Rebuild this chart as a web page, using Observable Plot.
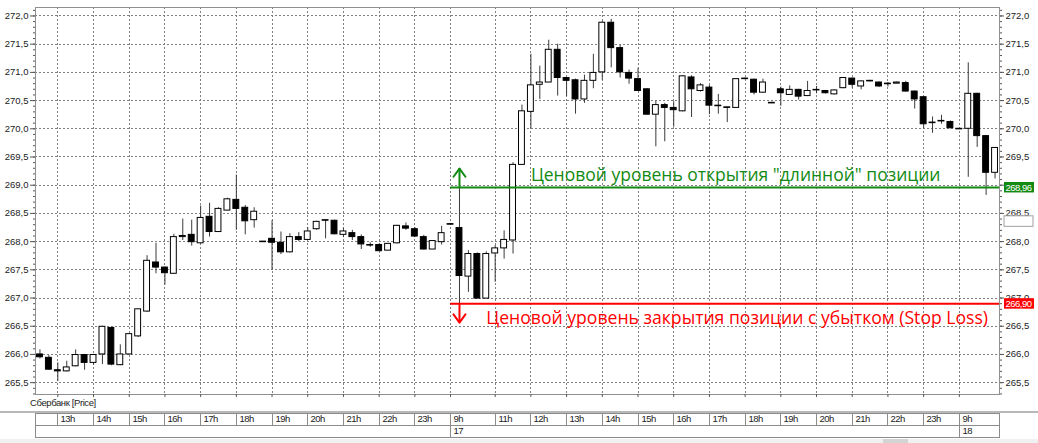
<!DOCTYPE html>
<html><head><meta charset="utf-8">
<script src="https://cdn.jsdelivr.net/npm/d3@7"></script>
<script src="https://cdn.jsdelivr.net/npm/@observablehq/plot@0.6"></script>
<style>
body{margin:0;background:#fff;}
#chart{position:relative;width:1038px;height:443px;overflow:hidden;background:#fff;}
.crisp{shape-rendering:crispEdges;}
</style></head><body><div id="chart"></div>
<script>
// ---- data (15-minute candles, index = bar number) ----
const openPrice  = [266.00,265.94,265.72,265.70,265.79,265.99,265.85,266.00,266.47,265.81,266.00,266.32,266.76,267.63,267.54,267.43,268.08,268.12,267.97,268.44,268.17,268.55,268.74,268.60,268.38,268.00,268.05,267.98,267.81,268.08,268.03,268.22,268.38,268.37,268.12,268.15,268.08,267.94,267.94,267.84,267.97,268.27,268.22,268.08,267.86,267.99,268.31,268.24,267.38,267.78,266.99,267.79,267.88,268.02,269.36,270.30,270.78,270.82,271.40,270.90,270.86,270.52,270.85,271.00,271.88,271.43,270.99,270.88,270.70,270.25,270.42,270.37,270.31,270.91,270.67,270.73,270.41,270.38,270.37,270.88,270.87,270.64,270.46,270.70,270.60,270.69,270.58,270.68,270.67,270.61,270.72,270.89,270.75,270.84,270.82,270.79,270.80,270.81,270.66,270.56,270.10,270.13,270.12,270.00,270.00,270.62,269.87,269.22];
const highPrice  = [266.08,265.98,265.85,265.88,266.08,266.00,266.00,266.50,266.48,266.17,266.37,266.80,267.75,267.97,267.55,268.13,268.40,268.38,268.63,268.68,268.60,268.77,269.18,268.64,268.60,268.00,268.37,268.17,268.14,268.16,268.25,268.36,268.38,268.38,268.24,268.20,268.12,267.98,267.96,267.96,268.29,268.33,268.25,268.11,268.02,268.27,268.31,268.96,267.84,267.80,267.82,267.93,268.19,269.40,270.42,271.32,271.11,271.57,271.50,270.90,270.88,270.95,271.32,271.90,271.94,271.48,271.04,271.07,270.71,270.49,270.45,270.48,270.94,270.94,270.80,270.77,270.61,270.38,270.89,270.90,270.88,270.88,270.47,270.74,270.76,270.70,270.84,270.75,270.68,270.69,270.91,270.90,270.85,270.86,270.83,270.82,270.83,270.84,270.67,270.57,270.21,270.24,270.14,270.00,271.17,270.63,269.88,269.67];
const lowPrice   = [265.92,265.72,265.52,265.69,265.78,265.72,265.81,265.82,265.80,265.80,265.99,266.30,266.75,267.43,267.23,267.42,268.02,267.92,267.96,268.08,268.16,268.55,268.20,268.12,268.24,268.00,267.50,267.77,267.80,268.00,268.02,268.20,268.05,268.12,268.07,268.02,267.86,267.90,267.83,267.84,267.96,268.20,268.07,267.85,267.86,267.94,268.30,266.90,267.10,266.99,266.99,267.28,267.69,267.78,269.35,270.00,270.52,270.82,270.58,270.57,270.26,270.45,270.71,270.86,271.08,270.90,270.79,270.66,270.24,269.68,269.77,270.03,270.30,270.20,270.65,270.25,270.26,270.11,270.37,270.87,270.60,270.63,270.45,270.40,270.59,270.51,270.57,270.62,270.62,270.60,270.71,270.72,270.69,270.83,270.73,270.74,270.80,270.65,270.35,270.00,269.92,270.08,270.00,269.99,269.14,269.67,268.82,269.11];
const closePrice = [265.95,265.73,265.70,265.77,265.99,265.85,265.99,266.49,265.82,266.00,266.36,266.80,267.66,267.54,267.44,268.08,268.10,267.99,268.42,268.17,268.58,268.75,268.58,268.36,268.53,267.99,267.98,267.81,268.08,268.03,268.18,268.35,268.37,268.13,268.18,268.08,267.95,267.93,267.83,267.96,268.28,268.23,268.09,267.86,268.01,268.15,268.30,267.39,267.78,266.99,267.78,267.88,268.03,269.36,270.31,270.77,270.82,271.40,270.90,270.85,270.52,270.85,270.99,271.88,271.43,271.00,270.89,270.67,270.25,270.42,270.37,270.33,270.93,270.70,270.77,270.41,270.40,270.37,270.88,270.89,270.64,270.82,270.45,270.63,270.69,270.57,270.67,270.69,270.63,270.68,270.90,270.78,270.84,270.85,270.75,270.80,270.82,270.66,270.52,270.08,270.11,270.14,270.01,269.99,270.62,269.87,269.22,269.66];

const hourIdx    = [2,6,10,14,18,22,26,30,34,38,42,46,51,55,59,63,67,71,75,79,83,87,91,95,99,103];
const hourLabels = ["13h","14h","15h","16h","17h","18h","19h","20h","21h","22h","23h","9h","11h","12h","13h","14h","15h","16h","17h","18h","19h","20h","21h","22h","23h","9h"];
const dayIdx     = [46,103];
const dayLabels  = ["17","18"];

const yTicks = d3.range(2655, 2721, 5).map(v => v / 10);
const yMinor = d3.range(2653, 2722, 1).map(v => v / 10);

const longLevel = 268.96;
const stopLevel = 266.90;
const blankTag  = 268.36;
const entryIdx  = 46;
const signalIdx = 47;
const instrument = "Сбербанк [Price]";
const longText = 'Ценовой уровень открытия "длинной" позиции';
const stopText = "Ценовой уровень закрытия позиции с убытком (Stop Loss)";

// ---- build ----
const GREEN = "#138a13", RED = "#ff0000";
const candles = openPrice.map((o, i) => ({i, o, h: highPrice[i], l: lowPrice[i], c: closePrice[i], up: closePrice[i] >= o}));
const lastIdx = candles.length - 0.5;
const fmt1 = d => d.toFixed(1).replace(".", ",");
const fmt2 = d => d.toFixed(2).replace(".", ",");

const arrows = [
  {k: "long", level: longLevel, dir: 1, color: GREEN},
  {k: "stop", level: stopLevel, dir: -1, color: RED}
];
const shaftLen = 0.335, wingX = 0.67, wingY = 0.145;
const heads = arrows.flatMap(a => {
  const tip = a.level + a.dir * shaftLen;
  return [
    {k: a.k, color: a.color, x: signalIdx - wingX, y: tip - a.dir * wingY},
    {k: a.k, color: a.color, x: signalIdx, y: tip},
    {k: a.k, color: a.color, x: signalIdx + wingX, y: tip - a.dir * wingY}
  ];
});

const W = 1038, H = 443;
const chartSvg = Plot.plot({
  width: W, height: H,
  marginLeft: 35, marginRight: 39, marginTop: 7, marginBottom: 49,
  style: {fontFamily: "'Liberation Sans', Arial, sans-serif", fontSize: "9.5px", color: "#222", background: "#fff"},
  x: {domain: [-0.5, lastIdx], axis: null},
  y: {domain: [265.29, 272.15], axis: null},
  marks: [
    Plot.ruleY(yTicks, {stroke: "#808080", strokeDasharray: "2,2", strokeWidth: 1, className: "crisp"}),
    Plot.ruleX(hourIdx, {stroke: "#808080", strokeDasharray: "2,2", strokeWidth: 1, className: "crisp"}),
    Plot.frame({stroke: "#909090", className: "crisp"}),
    Plot.axisY(yTicks, {anchor: "left", tickSize: 5, tickPadding: 2, tickFormat: fmt1, label: null, letterSpacing: "-0.5px", stroke: "#555"}),
    Plot.axisY(yMinor, {anchor: "left", tickSize: 2, text: null, label: null, stroke: "#555"}),
    Plot.axisY(yTicks, {anchor: "right", tickSize: 4, tickPadding: 2, tickFormat: fmt1, label: null, letterSpacing: "-0.5px", stroke: "#555"}),
    Plot.axisY(yMinor, {anchor: "right", tickSize: 2, text: null, label: null, stroke: "#555"}),
    Plot.axisX(hourIdx, {anchor: "bottom", tickSize: 3, text: null, label: null, stroke: "#555"}),
    // wicks
    Plot.ruleX(candles, {x: "i", y1: "l", y2: "h", stroke: "#3a3a3a", strokeWidth: 1}),
    // bodies
    Plot.rect(candles, {x1: d => d.i - 0.33, x2: d => d.i + 0.33, y1: "o", y2: "c",
      fill: d => d.up ? "#fff" : "#000", stroke: "#000", strokeWidth: 1}),
    // levels
    Plot.ruleY(arrows, {y: "level", x1: () => entryIdx, x2: () => lastIdx, stroke: "color", strokeWidth: 2}),
    Plot.ruleX(arrows, {x: () => signalIdx, y1: "level", y2: d => d.level + d.dir * shaftLen, stroke: "color", strokeWidth: 2}),
    Plot.line(heads, {x: "x", y: "y", z: "k", stroke: "color", strokeWidth: 2, curve: "linear"}),
    Plot.text([longText], {x: () => 55, y: () => longLevel, text: d => d, textAnchor: "start", lineAnchor: "bottom", dy: -6,
      fill: GREEN, fontSize: 17.5, fontFamily: "'Open Sans', 'Noto Sans', sans-serif"}),
    Plot.text([stopText], {x: () => 50, y: () => stopLevel, text: d => d, textAnchor: "start", lineAnchor: "bottom", dy: 20,
      fill: RED, fontSize: 17.6, fontFamily: "'Open Sans', 'Noto Sans', sans-serif"})
  ]
});
document.getElementById("chart").appendChild(chartSvg);

// ---- extras drawn with the plot's scales ----
const svgSel = d3.select(chartSvg);
const xScale = chartSvg.scale("x"), yScale = chartSvg.scale("y");
const X = v => xScale.apply(v), Y = v => yScale.apply(v);
const frameLeft = X(-0.5), frameRight = X(lastIdx);
const font = "'Liberation Sans', Arial, sans-serif";

// level tags on right axis
const tags = svgSel.append("g").attr("font-family", font).attr("font-size", "9.5px").attr("text-anchor", "start");
tags.append("rect").attr("x", frameRight + 5).attr("y", Y(blankTag) - 5).attr("width", 29).attr("height", 10.5)
  .attr("fill", "#fff").attr("stroke", "#a0a0a0");
[[longLevel, GREEN], [stopLevel, RED]].forEach(([v, c]) => {
  tags.append("rect").attr("x", frameRight + 5).attr("y", Y(v) - 5).attr("width", 30).attr("height", 10.5).attr("fill", c);
  tags.append("text").attr("x", frameRight + 6.5).attr("y", Y(v) + 3.6).attr("fill", "#fff").attr("letter-spacing", "-0.5px").text(fmt2(v));
});

// bottom: instrument label and time table
const tbl = svgSel.append("g").attr("font-family", font).attr("font-size", "9.5px").attr("fill", "#222").attr("text-anchor", "start");
tbl.append("text").attr("x", 30).attr("y", 406).attr("letter-spacing", "-0.4px").text(instrument);
tbl.append("line").attr("x1", 0).attr("x2", W).attr("y1", 412).attr("y2", 412).attr("stroke", "#b8b8b8").attr("stroke-width", 2);
const rowTop = 413, rowMid = 425, rowBot = 437;
tbl.append("rect").attr("x", frameLeft + 0.5).attr("y", rowTop + 0.5).attr("width", frameRight - frameLeft).attr("height", rowBot - rowTop)
  .attr("fill", "none").attr("stroke", "#8c8c8c");
tbl.append("line").attr("x1", frameLeft).attr("x2", frameRight).attr("y1", rowMid + 0.5).attr("y2", rowMid + 0.5).attr("stroke", "#8c8c8c");
hourIdx.forEach((h, k) => {
  const x = Math.round(X(h)) + 0.5;
  tbl.append("line").attr("x1", x).attr("x2", x).attr("y1", rowTop).attr("y2", rowMid).attr("stroke", "#8c8c8c");
  tbl.append("text").attr("x", x + 3).attr("y", rowMid - 3).attr("letter-spacing", "-0.5px").text(hourLabels[k]);
});
dayIdx.forEach((d, k) => {
  const x = Math.round(X(d)) + 0.5;
  tbl.append("line").attr("x1", x).attr("x2", x).attr("y1", rowMid).attr("y2", rowBot).attr("stroke", "#8c8c8c");
  tbl.append("text").attr("x", x + 3).attr("y", rowBot - 3).attr("letter-spacing", "-0.5px").text(dayLabels[k]);
});
tbl.append("rect").attr("x", 0).attr("y", 439).attr("width", W).attr("height", 4).attr("fill", "#f0f0f0");
tbl.append("rect").attr("x", 883).attr("y", 439).attr("width", 25).attr("height", 4).attr("fill", "#d4d4d4");
</script></body></html>
